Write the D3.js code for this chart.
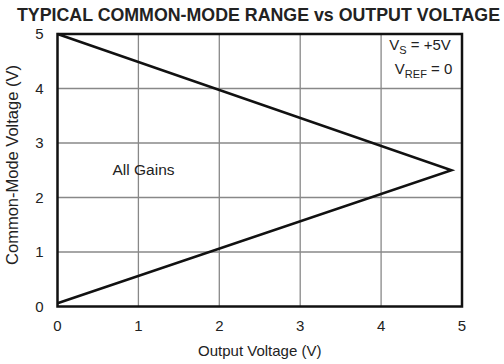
<!DOCTYPE html>
<html>
<head>
<meta charset="utf-8">
<script src="https://cdn.jsdelivr.net/npm/d3@7"></script>
<style>
  body { margin: 0; background: #fff; }
  text { font-family: "Liberation Sans", Arial, sans-serif; fill: #222; }
</style>
</head>
<body>
<svg id="chart" width="504" height="364"></svg>
<script>
// data
var xTicks = [0, 1, 2, 3, 4, 5]
var yTicks = [0, 1, 2, 3, 4, 5]
var outV = [0, 4.87, 0]
var cmV  = [5, 2.5, 0.06]

var margin = {top: 34, right: 42, bottom: 57.5, left: 57.5},
    width  = 504 - margin.left - margin.right,
    height = 364 - margin.top - margin.bottom

var svg = d3.select("#chart")

var x = d3.scaleLinear().domain([0, 5]).range([0, width])
var y = d3.scaleLinear().domain([0, 5]).range([height, 0])

var g = svg.append("g")
    .attr("transform", "translate(" + margin.left + "," + margin.top + ")")

// grid
g.selectAll(".vg").data(xTicks.slice(1, -1)).enter().append("line")
    .attr("x1", function(d) { return x(d) }).attr("x2", function(d) { return x(d) })
    .attr("y1", 0).attr("y2", height)
    .attr("stroke", "#888").attr("stroke-width", 1.3)
g.selectAll(".hg").data(yTicks.slice(1, -1)).enter().append("line")
    .attr("y1", function(d) { return y(d) }).attr("y2", function(d) { return y(d) })
    .attr("x1", 0).attr("x2", width)
    .attr("stroke", "#888").attr("stroke-width", 1.3)

// frame
g.append("rect")
    .attr("width", width).attr("height", height)
    .attr("fill", "none").attr("stroke", "#111").attr("stroke-width", 2.5)

// curve
var pts = outV.map(function(v, i) { return [v, cmV[i]] })
g.append("path")
    .datum(pts)
    .attr("d", d3.line().x(function(d) { return x(d[0]) }).y(function(d) { return y(d[1]) }))
    .attr("fill", "none").attr("stroke", "#111").attr("stroke-width", 2.5)

// tick labels
g.selectAll(".xl").data(xTicks).enter().append("text")
    .attr("x", function(d) { return x(d) }).attr("y", height + 24)
    .attr("text-anchor", "middle").attr("font-size", 15)
    .text(function(d) { return d })
g.selectAll(".yl").data(yTicks).enter().append("text")
    .attr("x", -14).attr("y", function(d) { return y(d) + 5 })
    .attr("text-anchor", "end").attr("font-size", 15)
    .text(function(d) { return d })

// axis titles
svg.append("text")
    .attr("x", margin.left + width / 2).attr("y", 356)
    .attr("text-anchor", "middle").attr("font-size", 15)
    .text("Output Voltage (V)")
svg.append("text")
    .attr("transform", "translate(18,165) rotate(-90)")
    .attr("text-anchor", "middle").attr("font-size", 16.5)
    .text("Common-Mode Voltage (V)")

// title
svg.append("text")
    .attr("x", 258.5).attr("y", 21)
    .attr("text-anchor", "middle").attr("font-size", 17.8).attr("font-weight", "bold")
    .attr("fill", "#000")
    .text("TYPICAL COMMON-MODE RANGE vs OUTPUT VOLTAGE")

// annotations
g.append("text")
    .attr("x", x(0.68)).attr("y", y(2.42))
    .attr("font-size", 15.5)
    .text("All Gains")

var leg = g.append("g").attr("font-size", 15)
var t1 = leg.append("text").attr("x", x(4.1)).attr("y", y(4.7))
t1.append("tspan").text("V")
t1.append("tspan").attr("font-size", 11).attr("dy", 4).text("S")
t1.append("tspan").attr("dy", -4).text(" = +5V")
var t2 = leg.append("text").attr("x", x(4.17)).attr("y", y(4.27))
t2.append("tspan").text("V")
t2.append("tspan").attr("font-size", 11).attr("dy", 4).text("REF")
t2.append("tspan").attr("dy", -4).text(" = 0")
</script>
</body>
</html>
